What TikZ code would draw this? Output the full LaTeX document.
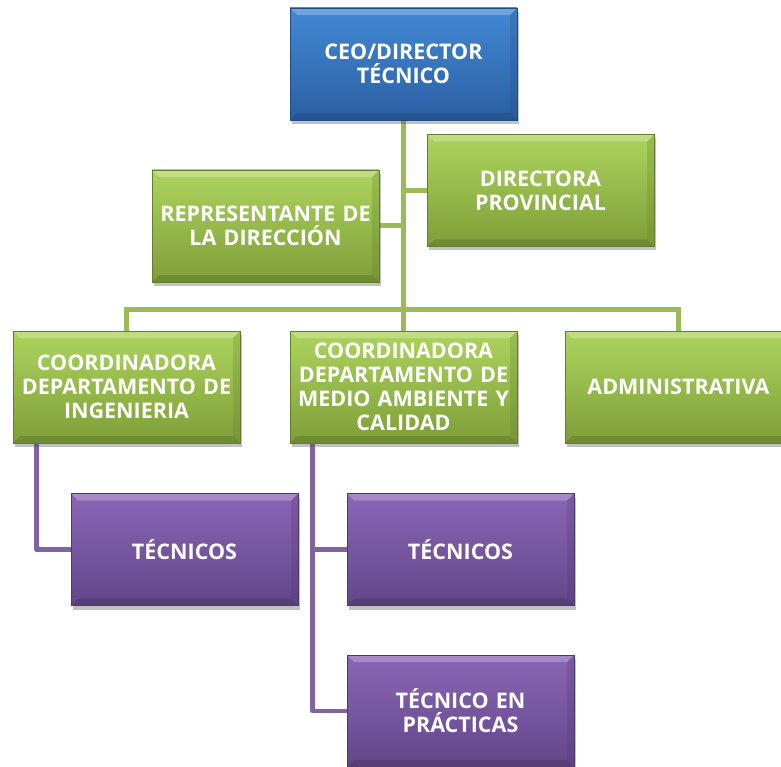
\documentclass[tikz,border=0pt]{standalone}
\usepackage{fontspec}
\setmainfont{Open Sans}
\usetikzlibrary{positioning,shadows,backgrounds}

\definecolor{blueTop}{HTML}{4289D4}
\definecolor{blueBot}{HTML}{2C5FA3}
\definecolor{greenTop}{HTML}{ADD45E}
\definecolor{greenBot}{HTML}{7E9E38}
\definecolor{purpleTop}{HTML}{8A66B5}
\definecolor{purpleBot}{HTML}{634689}
\definecolor{greenLine}{HTML}{9BBB59}
\definecolor{purpleLine}{HTML}{8064A2}

\tikzset{
  box/.style={rectangle, minimum width=227pt, minimum height=112pt, inner sep=0pt,
    text width=224pt, align=center, text=white, font=\fontsize{21.5}{24}\selectfont\bfseries,
    draw=#1Bot!80!black, line width=0.6pt, top color=#1Top, bottom color=#1Bot,
    drop shadow={shadow xshift=2pt, shadow yshift=-4pt, opacity=0.35, fill=black!70},
    path picture={
      \fill[#1Top!60!white, opacity=0.6] (path picture bounding box.north west) -- (path picture bounding box.north east)
        -- ([xshift=-7pt,yshift=-7pt]path picture bounding box.north east) -- ([xshift=7pt,yshift=-7pt]path picture bounding box.north west) -- cycle;
      \fill[#1Bot!70!black, opacity=0.4] (path picture bounding box.south west) -- (path picture bounding box.south east)
        -- ([xshift=-7pt,yshift=7pt]path picture bounding box.south east) -- ([xshift=7pt,yshift=7pt]path picture bounding box.south west) -- cycle;
      \fill[#1Bot!80!black, opacity=0.25] (path picture bounding box.north east) -- (path picture bounding box.south east)
        -- ([xshift=-7pt,yshift=7pt]path picture bounding box.south east) -- ([xshift=-7pt,yshift=-7pt]path picture bounding box.north east) -- cycle;
    }},
  gline/.style={draw=greenLine, line width=5pt},
  pline/.style={draw=purpleLine, line width=4.5pt, line join=round}
}

\begin{document}
\begin{tikzpicture}[x=1pt, y=-1pt]
  \useasboundingbox (0,0) rectangle (781,767);

  % top level
  \node[box=blue] (ceo) at (403.5,64) {CEO/DIRECTOR\\TÉCNICO};

  % staff
  \node[box=green] (rep) at (265.5,226) {REPRESENTANTE DE\\LA DIRECCIÓN};
  \node[box=green] (dir) at (540.5,190.5) {DIRECTORA\\PROVINCIAL};

  % coordinators
  \node[box=green] (ing) at (126.5,387) {COORDINADORA\\DEPARTAMENTO DE\\INGENIERIA};
  \node[box=green] (coordma) at (403.5,387) {COORDINADORA\\DEPARTAMENTO DE\\MEDIO AMBIENTE Y\\CALIDAD};
  \node[box=green] (admin) at (678.5,387) {ADMINISTRATIVA};

  % technicians
  \node[box=purple] (tecing) at (184.5,549.5) {TÉCNICOS};
  \node[box=purple] (tecma) at (460.5,549.5) {TÉCNICOS};
  \node[box=purple] (prac) at (460.5,711) {TÉCNICO EN\\PRÁCTICAS};

  \begin{scope}[on background layer]
    \draw[gline] (ceo.south) -- (coordma.north);
    \draw[gline] (rep.east) -- (rep.east -| ceo.south);
    \draw[gline] (dir.west) -- (dir.west -| ceo.south);
    \draw[gline] (ing.north) -- ++(0,-21) -| (admin.north);
    \draw[pline] ([xshift=24pt]ing.south west) |- (tecing.west);
    \draw[pline] ([xshift=23pt]coordma.south west) |- (tecma.west);
    \draw[pline] ([xshift=23pt]coordma.south west) |- (prac.west);
  \end{scope}
\end{tikzpicture}
\end{document}
